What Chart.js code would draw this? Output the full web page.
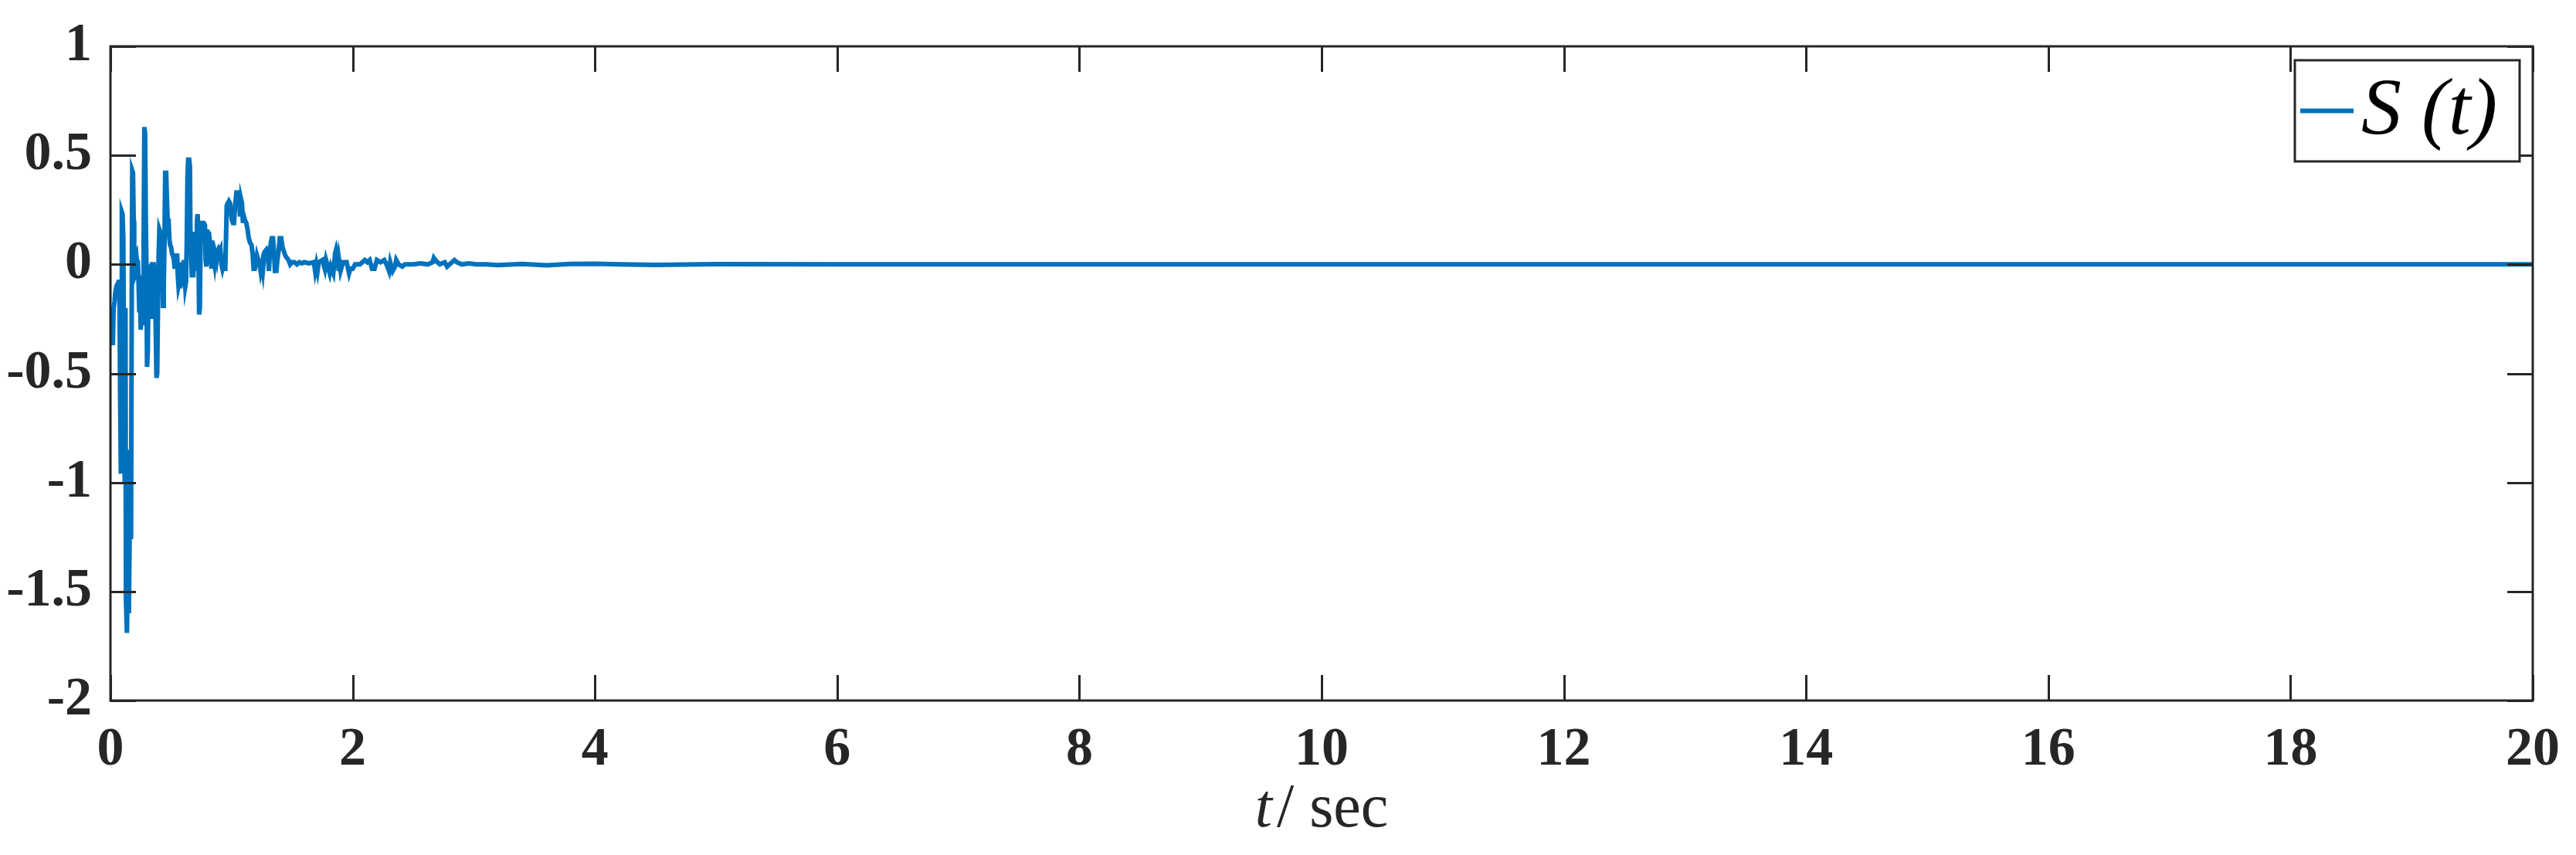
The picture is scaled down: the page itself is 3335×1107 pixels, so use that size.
<!DOCTYPE html>
<html>
<head>
<meta charset="utf-8">
<script src="https://cdn.jsdelivr.net/npm/chart.js@4.4.1/dist/chart.umd.min.js"></script>
<style>
  html, body { margin: 0; padding: 0; background: #ffffff; }
  canvas { display: block; }
</style>
</head>
<body>
<canvas id="sChart" width="3335" height="1107" style="width:3335px;height:1107px"></canvas>
<script>
// time samples (sec)
const timeValues = [
  0.000, 0.006, 0.012, 0.020, 0.026, 0.034, 0.042, 0.050, 0.058, 0.066,
  0.074, 0.080, 0.086, 0.090, 0.094, 0.100, 0.106, 0.112, 0.118, 0.124,
  0.128, 0.136, 0.142, 0.148, 0.152, 0.158, 0.164, 0.170, 0.176, 0.180,
  0.186, 0.192, 0.196, 0.202, 0.208, 0.214, 0.220, 0.226, 0.232, 0.238,
  0.244, 0.250, 0.256, 0.262, 0.268, 0.274, 0.280, 0.286, 0.292, 0.298,
  0.302, 0.308, 0.314, 0.320, 0.326, 0.332, 0.338, 0.344, 0.350, 0.356,
  0.362, 0.368, 0.374, 0.380, 0.386, 0.392, 0.398, 0.404, 0.410, 0.416,
  0.422, 0.428, 0.434, 0.440, 0.446, 0.452, 0.460, 0.466, 0.472, 0.480,
  0.486, 0.492, 0.500, 0.508, 0.516, 0.524, 0.530, 0.536, 0.544, 0.550,
  0.556, 0.562, 0.570, 0.576, 0.582, 0.588, 0.594, 0.600, 0.606, 0.612,
  0.618, 0.624, 0.630, 0.636, 0.642, 0.650, 0.656, 0.660, 0.666, 0.672,
  0.678, 0.684, 0.690, 0.696, 0.702, 0.708, 0.714, 0.720, 0.726, 0.732,
  0.738, 0.744, 0.750, 0.760, 0.770, 0.780, 0.786, 0.792, 0.800, 0.806,
  0.812, 0.820, 0.828, 0.834, 0.840, 0.846, 0.852, 0.860, 0.868, 0.876,
  0.884, 0.892, 0.900, 0.908, 0.916, 0.924, 0.932, 0.940, 0.948, 0.954,
  0.960, 0.968, 0.978, 0.988, 0.996, 1.004, 1.012, 1.020, 1.028, 1.040,
  1.052, 1.062, 1.070, 1.078, 1.086, 1.094, 1.102, 1.112, 1.122, 1.132,
  1.142, 1.152, 1.164, 1.174, 1.182, 1.192, 1.200, 1.210, 1.220, 1.230,
  1.240, 1.250, 1.258, 1.266, 1.276, 1.290, 1.300, 1.308, 1.316, 1.324,
  1.332, 1.342, 1.350, 1.358, 1.370, 1.378, 1.388, 1.398, 1.410, 1.420,
  1.432, 1.444, 1.456, 1.470, 1.484, 1.500, 1.520, 1.540, 1.560, 1.580,
  1.600, 1.640, 1.680, 1.690, 1.700, 1.710, 1.720, 1.750, 1.770, 1.780,
  1.810, 1.820, 1.840, 1.855, 1.865, 1.875, 1.885, 1.890, 1.900, 1.920,
  1.950, 1.970, 1.980, 2.000, 2.020, 2.060, 2.100, 2.120, 2.140, 2.160,
  2.180, 2.200, 2.230, 2.260, 2.280, 2.300, 2.310, 2.330, 2.350, 2.360,
  2.380, 2.410, 2.430, 2.500, 2.560, 2.620, 2.660, 2.670, 2.690, 2.720,
  2.760, 2.780, 2.800, 2.840, 2.860, 2.900, 2.960, 3.020, 3.100, 3.200,
  3.400, 3.600, 3.800, 4.000, 4.200, 4.500, 5.000, 6.000, 8.000, 10.000,
  12.000, 14.000, 16.000, 18.000, 20.000
];

// S(t)
const sValues = [
  -0.22, -0.26, -0.36, -0.36, -0.20, -0.17, -0.12, -0.10, -0.09, -0.08,
  -0.08, -0.60, -0.96, -0.30, 0.24, 0.23, 0.12, -0.40, -1.00, -0.20,
  -1.54, -1.69, -1.45, -1.20, -1.60, -1.26, -0.85, -1.26, -0.10, 0.43,
  0.42, 0.20, -0.06, -0.05, 0.03, 0.04, 0.00, 0.02, -0.08, -0.22,
  -0.10, -0.30, -0.05, -0.28, -0.10, 0.10, 0.63, 0.60, 0.20, -0.05,
  -0.47, -0.40, -0.10, -0.24, 0.00, -0.24, -0.05, 0.01, -0.12, 0.01,
  -0.05, -0.08, -0.30, -0.52, -0.50, -0.20, 0.05, 0.16, 0.15, 0.00,
  -0.05, 0.05, -0.19, -0.10, 0.10, 0.42, 0.42, 0.30, 0.20, 0.20,
  0.12, 0.09, 0.08, 0.05, 0.04, 0.02, -0.02, 0.04, 0.00, 0.05,
  -0.05, -0.10, -0.08, -0.11, -0.03, 0.01, -0.10, -0.03, 0.02, -0.04,
  -0.10, -0.08, 0.10, 0.40, 0.48, 0.48, 0.45, 0.15, 0.05, -0.06,
  0.10, -0.06, 0.10, 0.15, 0.05, -0.02, 0.20, 0.23, 0.10, -0.23,
  -0.20, 0.10, 0.19, 0.19, 0.19, 0.18, 0.02, -0.01, 0.16, 0.00,
  0.15, 0.11, 0.10, -0.02, 0.11, 0.00, 0.03, 0.00, 0.04, 0.02,
  0.06, 0.07, 0.06, 0.07, 0.00, -0.02, 0.00, -0.02, -0.02, 0.12,
  0.27, 0.28, 0.29, 0.28, 0.23, 0.20, 0.19, 0.19, 0.26, 0.33,
  0.33, 0.30, 0.22, 0.30, 0.28, 0.19, 0.22, 0.20, 0.19, 0.16,
  0.12, 0.10, 0.09, 0.05, -0.02, -0.02, 0.00, 0.04, 0.02, 0.01,
  -0.03, 0.00, -0.03, 0.02, 0.06, 0.07, 0.06, -0.03, 0.05, 0.10,
  0.12, 0.12, 0.06, -0.03, -0.03, 0.02, 0.06, 0.12, 0.12, 0.08,
  0.06, 0.04, 0.03, 0.02, 0.00, 0.01, 0.01, 0.00, 0.01, 0.005,
  0.01, 0.005, 0.01, -0.03, 0.00, -0.03, 0.01, 0.02, -0.02, 0.02,
  -0.04, -0.01, -0.04, 0.05, 0.072, 0.05, -0.03, 0.01, -0.03, 0.01,
  0.01, -0.04, -0.02, -0.02, 0.00, 0.00, 0.02, 0.01, 0.02, -0.02,
  -0.02, 0.02, 0.01, 0.02, 0.00, -0.03, 0.01, -0.03, -0.01, 0.02,
  0.00, -0.01, 0.00, 0.00, 0.005, 0.00, 0.01, 0.03, 0.015, 0.00,
  0.01, -0.01, 0.00, 0.02, 0.01, 0.00, 0.005, 0.00, 0.00, -0.003,
  0.002, -0.004, 0.002, 0.003, 0.00, -0.002, 0.001, 0.00, 0.00, 0.00,
  0.00, 0.00, 0.00, 0.00, 0.00
];

const xTicks = [0, 2, 4, 6, 8, 10, 12, 14, 16, 18, 20];
const yTicks = [-2, -1.5, -1, -0.5, 0, 0.5, 1];
const seriesLabel = 'S (t)';

const AXIS_COLOR = '#262626';
const LINE_COLOR = '#0072BD';
const SERIF = '"Liberation Serif", "Times New Roman", serif';

// box, inner ticks, legend and x title, like the matlab figure
const matlabFrame = {
  id: 'matlabFrame',
  afterDatasetsDraw(chart) {
    const ctx = chart.ctx;
    const area = chart.chartArea;
    const xs = chart.scales.x;
    const ys = chart.scales.y;
    const tickLen = 33;

    ctx.save();
    ctx.strokeStyle = AXIS_COLOR;
    ctx.lineWidth = 3;
    ctx.beginPath();
    xTicks.forEach(v => {
      const px = Math.round(xs.getPixelForValue(v)) + 0.5;
      ctx.moveTo(px, area.bottom);
      ctx.lineTo(px, area.bottom - tickLen);
      ctx.moveTo(px, area.top);
      ctx.lineTo(px, area.top + tickLen);
    });
    yTicks.forEach(v => {
      const py = Math.round(ys.getPixelForValue(v)) + 0.5;
      ctx.moveTo(area.left, py);
      ctx.lineTo(area.left + tickLen, py);
      ctx.moveTo(area.right, py);
      ctx.lineTo(area.right - tickLen, py);
    });
    ctx.stroke();
    ctx.strokeRect(area.left, area.top, area.right - area.left, area.bottom - area.top);

    // legend
    const ds = chart.data.datasets[0];
    const boxW = 291, boxH = 131;
    const bx = area.right - 17 - boxW;
    const by = area.top + 18;
    ctx.fillStyle = '#ffffff';
    ctx.fillRect(bx, by, boxW, boxH);
    ctx.strokeRect(bx, by, boxW, boxH);
    const midY = by + boxH / 2;
    ctx.strokeStyle = ds.borderColor;
    ctx.lineWidth = ds.borderWidth;
    ctx.beginPath();
    ctx.moveTo(bx + 7, midY);
    ctx.lineTo(bx + 76, midY);
    ctx.stroke();
    ctx.fillStyle = '#000000';
    ctx.font = 'italic 104px ' + SERIF;
    ctx.textBaseline = 'middle';
    ctx.textAlign = 'left';
    ctx.fillText(ds.label, bx + 86, midY + 2);

    // x axis title: t / sec
    const cx = (area.left + area.right) / 2;
    const baseY = 1070;
    ctx.fillStyle = AXIS_COLOR;
    ctx.textBaseline = 'alphabetic';
    ctx.font = 'italic 80px ' + SERIF;
    const tW = ctx.measureText('t').width;
    ctx.font = '80px ' + SERIF;
    const restW = ctx.measureText('/ sec').width;
    let x0 = cx - (tW + 6 + restW) / 2;
    ctx.font = 'italic 80px ' + SERIF;
    ctx.fillText('t', x0, baseY);
    ctx.font = '80px ' + SERIF;
    ctx.fillText('/ sec', x0 + tW + 6, baseY);
    ctx.restore();
  }
};

const points = timeValues.map((t, i) => ({ x: t, y: sValues[i] }));

const chart = new Chart(document.getElementById('sChart').getContext('2d'), {
  type: 'line',
  data: {
    datasets: [{
      label: seriesLabel,
      data: points,
      borderColor: LINE_COLOR,
      backgroundColor: LINE_COLOR,
      borderWidth: 6,
      pointRadius: 0,
      tension: 0,
      fill: false
    }]
  },
  options: {
    responsive: false,
    animation: false,
    devicePixelRatio: 1,
    layout: { padding: { top: 60, right: 56, left: 0, bottom: 0 } },
    plugins: {
      legend: { display: false },
      tooltip: { enabled: false }
    },
    scales: {
      x: {
        type: 'linear',
        min: 0,
        max: 20,
        afterBuildTicks: scale => { scale.ticks = xTicks.map(v => ({ value: v })); },
        afterFit: scale => { scale.height = 200; },
        grid: { display: false },
        border: { display: false },
        ticks: {
          color: AXIS_COLOR,
          padding: 15,
          maxRotation: 0,
          font: { family: SERIF, weight: 'bold', size: 70 },
          callback: v => String(v)
        }
      },
      y: {
        type: 'linear',
        min: -2,
        max: 1,
        afterBuildTicks: scale => { scale.ticks = yTicks.map(v => ({ value: v })); },
        afterFit: scale => { scale.width = 143; },
        grid: { display: false },
        border: { display: false },
        ticks: {
          color: AXIS_COLOR,
          padding: 16,
          font: { family: SERIF, weight: 'bold', size: 70 },
          callback: v => String(v)
        }
      }
    }
  },
  plugins: [matlabFrame]
});
</script>
</body>
</html>
